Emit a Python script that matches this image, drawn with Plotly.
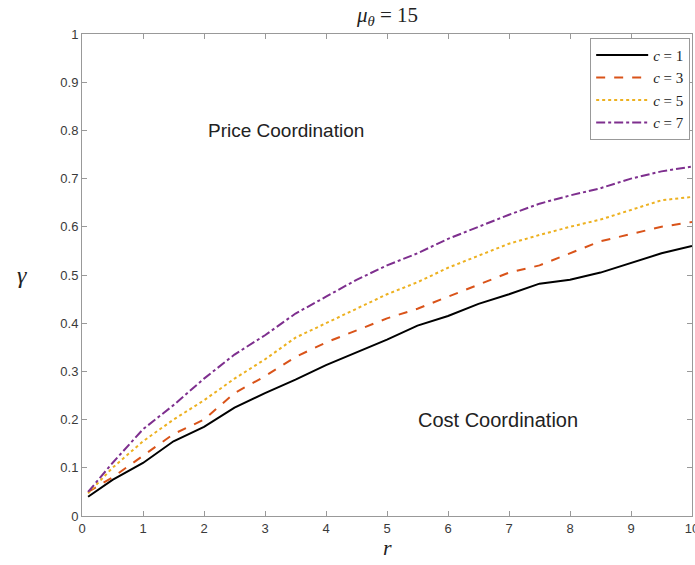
import plotly.graph_objects as go

r_vals = [0.1, 0.5, 1.0, 1.5, 2.0, 2.5, 3.0, 3.5, 4.0, 4.5, 5.0, 5.5, 6.0, 6.5, 7.0, 7.5, 8.0, 8.5, 9.0, 9.5, 10.0]
gamma_c1 = [0.04, 0.075, 0.11, 0.155, 0.185, 0.225, 0.255, 0.283, 0.313, 0.34, 0.366, 0.395, 0.415, 0.44, 0.46, 0.482, 0.49, 0.505, 0.525, 0.545, 0.56]
gamma_c3 = [0.05, 0.08, 0.125, 0.17, 0.2, 0.255, 0.29, 0.33, 0.36, 0.385, 0.41, 0.43, 0.455, 0.48, 0.505, 0.52, 0.545, 0.57, 0.585, 0.6, 0.61]
gamma_c5 = [0.047, 0.1, 0.155, 0.2, 0.24, 0.285, 0.325, 0.37, 0.4, 0.43, 0.46, 0.485, 0.515, 0.54, 0.565, 0.583, 0.6, 0.615, 0.635, 0.655, 0.662]
gamma_c7 = [0.05, 0.11, 0.18, 0.23, 0.285, 0.335, 0.375, 0.42, 0.455, 0.49, 0.52, 0.545, 0.575, 0.6, 0.625, 0.648, 0.665, 0.68, 0.7, 0.715, 0.725]

series = [
    ("<i>c</i> = 1", gamma_c1, "#000000", "solid"),
    ("<i>c</i> = 3", gamma_c3, "#D95319", "dash"),
    ("<i>c</i> = 5", gamma_c5, "#EDB120", "dot"),
    ("<i>c</i> = 7", gamma_c7, "#7E2F8E", "dashdot"),
]

x_ticks = list(range(0, 11))
y_ticks = [0, 0.1, 0.2, 0.3, 0.4, 0.5, 0.6, 0.7, 0.8, 0.9, 1]
y_tick_text = ["0", "0.1", "0.2", "0.3", "0.4", "0.5", "0.6", "0.7", "0.8", "0.9", "1"]

fig = go.Figure()
for name, vals, color, dash in series:
    fig.add_trace(go.Scatter(x=r_vals, y=vals, mode="lines", name=name,
                             line=dict(color=color, width=2, dash=dash)))

axis_common = dict(showline=True, linecolor="#999999", linewidth=1, mirror="allticks",
                   ticks="inside", ticklen=5, tickcolor="#999999", showgrid=False, zeroline=False,
                   automargin=False,
                   tickfont=dict(family="Liberation Sans, Arial", size=13, color="#3a3a3a"))

fig.update_layout(
    width=695, height=565,
    margin=dict(l=82, r=3, t=34, b=49, autoexpand=False),
    paper_bgcolor="white", plot_bgcolor="white",
    xaxis=dict(range=[0, 10], tickvals=x_ticks, ticklabeloverflow="allow", **axis_common),
    yaxis=dict(range=[0, 1], tickvals=y_ticks, ticktext=y_tick_text, **axis_common),
    showlegend=True,
    legend=dict(x=0.997, y=0.992, xanchor="right", yanchor="top",
                bgcolor="white", bordercolor="#999999", borderwidth=1,
                itemwidth=52,
                font=dict(family="Liberation Serif, Times New Roman", size=15, color="#222222"),
                tracegroupgap=0),
    annotations=[
        dict(text="<i>μ</i><sub><i>θ</i></sub> = 15", xref="paper", yref="paper", x=0.5, y=1.0,
             yshift=3, xanchor="center", yanchor="bottom", showarrow=False,
             font=dict(family="Liberation Serif, Times New Roman", size=21, color="#222222")),
        dict(text="<i>r</i>", xref="paper", yref="paper", x=0.5, y=-0.066,
             xanchor="center", yanchor="middle", showarrow=False,
             font=dict(family="Liberation Serif, Times New Roman", size=22, color="#222222")),
        dict(text="<i>γ</i>", xref="paper", yref="paper", x=-0.098, y=0.5,
             xanchor="center", yanchor="middle", showarrow=False,
             font=dict(family="Liberation Serif, Times New Roman", size=24, color="#222222")),
        dict(text="Price Coordination", xref="x", yref="y", x=3.35, y=0.80,
             xanchor="center", yanchor="middle", showarrow=False,
             font=dict(family="Liberation Sans, Arial", size=19, color="#222222")),
        dict(text="Cost Coordination", xref="x", yref="y", x=6.82, y=0.20,
             xanchor="center", yanchor="middle", showarrow=False,
             font=dict(family="Liberation Sans, Arial", size=20, color="#222222")),
    ],
)

fig.write_html("out.html", config={"displayModeBar": False},
               post_script="document.body.style.margin='0';document.body.style.overflow='hidden';")
